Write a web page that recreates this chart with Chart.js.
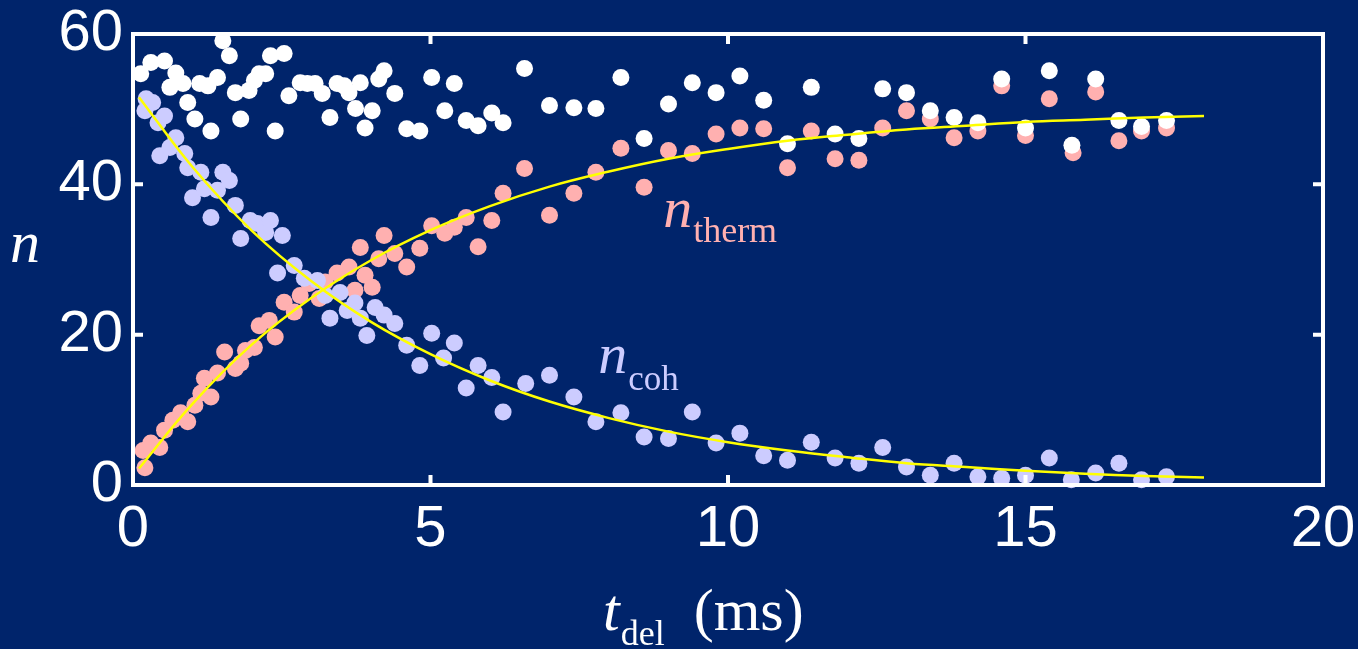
<!DOCTYPE html>
<html>
<head>
<meta charset="UTF-8">
<title>n vs t_del</title>
<script src="https://cdn.jsdelivr.net/npm/chart.js"></script>
<style>
  html, body { margin: 0; padding: 0; background: #00246b; overflow: hidden; }
  #wrap { width: 1358px; height: 649px; }
</style>
</head>
<body>
<div id="wrap"><canvas id="chart"></canvas></div>
<script>
  // total atom number (white)
  const totalT = [0.13, 0.3, 0.53, 0.62, 0.72, 0.84, 0.92, 1.04, 1.12, 1.26, 1.31, 1.42, 1.51, 1.62, 1.72, 1.81, 1.95, 2.04, 2.12, 2.23,
    2.31, 2.39, 2.54, 2.62, 2.81, 2.93, 3.06, 3.18, 3.31, 3.43, 3.55, 3.63, 3.74, 3.82, 3.9, 4.02, 4.13, 4.22, 4.4, 4.6,
    4.82, 5.02, 5.24, 5.4, 5.6, 5.8, 6.03, 6.22, 6.58, 7.0, 7.41, 7.78, 8.2, 8.59, 9.0, 9.4, 9.8, 10.2, 10.6, 11.0,
    11.4, 11.8, 12.2, 12.6, 13.0, 13.4, 13.8, 14.2, 14.6, 15.0, 15.4, 15.78, 16.18, 16.57, 16.95, 17.37];
  const totalN = [54.7, 56.2, 56.4, 52.9, 54.8, 53.4, 50.9, 48.7, 53.4, 53.1, 47.1, 54.2, 59.1, 57.1, 52.2, 48.7, 52.5, 53.8, 54.7, 54.7,
    57.1, 47.1, 57.4, 51.8, 53.5, 53.4, 53.4, 52.1, 48.9, 53.4, 53.1, 52.2, 50.1, 53.5, 47.5, 49.8, 54.0, 55.1, 52.1, 47.4,
    47.1, 54.2, 49.8, 53.4, 48.5, 47.8, 49.5, 48.2, 55.4, 50.5, 50.2, 50.1, 54.2, 46.1, 50.7, 53.5, 52.2, 54.4, 51.2, 45.4,
    52.9, 46.7, 46.1, 52.7, 52.2, 49.8, 48.9, 48.2, 54.0, 47.5, 55.1, 45.2, 54.0, 48.5, 47.7, 48.5];

  // thermal atoms (pink)
  const thermT = [0.17, 0.2, 0.3, 0.45, 0.53, 0.67, 0.8, 0.92, 1.04, 1.14, 1.2, 1.31, 1.42, 1.54, 1.72, 1.81, 1.89, 2.04, 2.12, 2.29,
    2.39, 2.54, 2.71, 2.81, 2.96, 3.13, 3.23, 3.43, 3.63, 3.73, 3.82, 3.9, 4.02, 4.13, 4.22, 4.4, 4.6, 4.82, 5.02, 5.24,
    5.4, 5.6, 5.8, 6.03, 6.22, 6.58, 7.0, 7.41, 7.78, 8.2, 8.59, 9.0, 9.4, 9.8, 10.2, 10.6, 11.0, 11.4, 11.8, 12.2,
    12.6, 13.0, 13.4, 13.8, 14.2, 14.6, 15.0, 15.4, 15.8, 16.18, 16.57, 16.95, 17.37];
  const thermN = [4.6, 2.3, 5.6, 5.0, 7.3, 8.6, 9.6, 8.4, 10.6, 12.2, 14.2, 11.7, 14.9, 17.7, 15.5, 16.2, 17.9, 18.3, 21.2, 21.9,
    19.7, 24.3, 23.0, 25.2, 26.8, 24.8, 27.0, 28.2, 29.0, 25.9, 31.6, 27.9, 26.3, 30.1, 33.2, 30.8, 29.0, 31.5, 34.5, 33.5,
    34.3, 35.6, 31.7, 35.2, 38.8, 42.1, 35.9, 38.8, 41.6, 44.8, 39.6, 44.5, 44.1, 46.7, 47.5, 47.4, 42.2, 47.1, 43.4, 43.2,
    47.5, 49.8, 48.7, 46.2, 47.1, 53.1, 46.5, 51.4, 44.2, 52.3, 45.8, 47.1, 47.5];

  // coherent atoms (lavender)
  const cohT = [0.2, 0.22, 0.33, 0.42, 0.45, 0.53, 0.62, 0.72, 0.87, 0.92, 1.0, 1.14, 1.2, 1.31, 1.42, 1.51, 1.62, 1.72, 1.81, 1.97,
    2.09, 2.23, 2.31, 2.43, 2.51, 2.71, 2.88, 3.1, 3.23, 3.31, 3.48, 3.6, 3.73, 3.82, 3.93, 4.07, 4.22, 4.4, 4.6, 4.82,
    5.02, 5.22, 5.4, 5.6, 5.8, 6.03, 6.22, 6.6, 7.0, 7.41, 7.78, 8.2, 8.59, 9.0, 9.4, 9.8, 10.2, 10.6, 11.0, 11.4,
    11.8, 12.2, 12.6, 13.0, 13.4, 13.8, 14.2, 14.6, 15.0, 15.4, 15.77, 16.18, 16.57, 16.95, 17.37];
  const cohN = [49.8, 51.4, 50.9, 48.2, 43.8, 49.1, 44.9, 46.2, 44.1, 42.2, 38.2, 41.6, 39.4, 35.6, 39.2, 41.6, 40.5, 37.2, 32.8, 35.2,
    34.8, 33.6, 35.2, 28.2, 33.2, 29.2, 27.5, 27.2, 25.2, 22.2, 25.6, 23.2, 24.2, 22.2, 19.9, 23.6, 22.6, 21.5, 18.6, 15.9,
    20.2, 16.9, 18.9, 12.9, 15.9, 14.3, 9.7, 13.5, 14.6, 11.7, 8.4, 9.6, 6.4, 6.2, 9.7, 5.6, 6.9, 3.9, 3.3, 5.7,
    3.6, 2.9, 5.0, 2.4, 1.3, 2.9, 1.1, 0.9, 1.3, 3.6, 0.7, 1.6, 2.9, 0.7, 1.1];

  // yellow fit curves
  const fitT = [0.1, 1, 2, 3, 4, 5, 6, 7, 8, 9, 10, 11, 12, 13, 14, 15, 16, 17, 18];
  const fitTherm = [2.2, 10.8, 18.7, 24.9, 29.9, 33.9, 37.1, 39.7, 41.7, 43.4, 44.7, 45.8, 46.6, 47.3, 47.8, 48.3, 48.6, 48.9, 49.1];
  const fitCoh = [51.6, 42.3, 33.8, 27.1, 21.7, 17.4, 13.9, 11.1, 8.9, 7.1, 5.7, 4.6, 3.7, 2.9, 2.4, 1.9, 1.5, 1.2, 1.0];

  const BG = '#00246b';
  const PINK = '#ffb0b0';
  const LAV = '#ccccff';
  const YEL = '#ffff00';
  const SERIF = '"Liberation Serif", "Times New Roman", serif';
  const SANS = '"Liberation Sans", Arial, sans-serif';

  const pts = (xs, ys) => xs.map((x, i) => ({ x: x, y: ys[i] }));

  function dotSet(label, xs, ys, color, order) {
    return {
      label: label, data: pts(xs, ys), order: order, clip: false,
      pointRadius: 8.5, pointHoverRadius: 8.5, pointStyle: 'circle',
      backgroundColor: color, borderColor: color, borderWidth: 0, showLine: false
    };
  }
  function fitSet(label, xs, ys) {
    return {
      label: label, data: pts(xs, ys), order: 0, showLine: true, tension: 0.4,
      pointRadius: 0, borderColor: YEL, borderWidth: 2.5, fill: false
    };
  }

  // main text followed by a lowered subscript
  function subText(ctx, x, y, main, sub, color, mainFont, subFont, drop, italic) {
    ctx.fillStyle = color;
    ctx.textBaseline = 'alphabetic';
    ctx.textAlign = 'left';
    ctx.font = (italic ? 'italic ' : '') + mainFont + ' ' + SERIF;
    ctx.fillText(main, x, y);
    const w = ctx.measureText(main).width;
    ctx.font = subFont + ' ' + SERIF;
    ctx.fillText(sub, x + w + 1, y + drop);
    return x + w + 1 + ctx.measureText(sub).width;
  }

  const frame = {
    id: 'frame',
    beforeDraw(chart) {
      const ctx = chart.ctx;
      ctx.save();
      ctx.fillStyle = BG;
      ctx.fillRect(0, 0, chart.width, chart.height);
      ctx.restore();
    },
    afterDraw(chart) {
      const { ctx, chartArea: a, scales } = chart;
      const xs = scales.x, ys = scales.y;
      ctx.save();
      ctx.strokeStyle = '#ffffff';
      ctx.lineWidth = 4;
      ctx.strokeRect(a.left, a.top, a.right - a.left, a.bottom - a.top);
      const len = 10;
      ctx.beginPath();
      xs.ticks.forEach(t => {
        if (t.value <= xs.min || t.value >= xs.max) return;
        const px = xs.getPixelForValue(t.value);
        ctx.moveTo(px, a.bottom); ctx.lineTo(px, a.bottom - len);
        ctx.moveTo(px, a.top); ctx.lineTo(px, a.top + len);
      });
      ys.ticks.forEach(t => {
        if (t.value <= ys.min || t.value >= ys.max) return;
        const py = ys.getPixelForValue(t.value);
        ctx.moveTo(a.left, py); ctx.lineTo(a.left + len, py);
        ctx.moveTo(a.right, py); ctx.lineTo(a.right - len, py);
      });
      ctx.stroke();

      // curve labels, placed in data units
      subText(ctx, xs.getPixelForValue(8.91), ys.getPixelForValue(34.3), 'n', 'therm', PINK, '58px', '36px', 15, true);
      subText(ctx, xs.getPixelForValue(7.82), ys.getPixelForValue(14.9), 'n', 'coh', LAV, '58px', '35px', 17, true);

      // axis titles
      ctx.fillStyle = '#ffffff';
      ctx.font = 'italic 60px ' + SERIF;
      ctx.textAlign = 'left';
      ctx.textBaseline = 'alphabetic';
      ctx.fillText('n', 10, 262);
      const end = subText(ctx, 603, 630, 't', 'del', '#ffffff', '60px', '36px', 15, true);
      ctx.font = '60px ' + SERIF;
      ctx.fillText('(ms)', end + 29, 630);
      ctx.restore();
    }
  };

  new Chart(document.getElementById('chart'), {
    type: 'scatter',
    data: {
      datasets: [
        fitSet('therm fit', fitT, fitTherm),
        fitSet('coh fit', fitT, fitCoh),
        dotSet('n total', totalT, totalN, '#ffffff', 1),
        dotSet('n coh', cohT, cohN, LAV, 2),
        dotSet('n therm', thermT, thermN, PINK, 3)
      ]
    },
    options: {
      responsive: true,
      maintainAspectRatio: false,
      animation: false,
      events: [],
      layout: { padding: { left: 0, right: 35, top: 34, bottom: 0 } },
      plugins: { legend: { display: false }, tooltip: { enabled: false } },
      scales: {
        x: {
          type: 'linear', min: 0, max: 20,
          grid: { display: false, drawTicks: false },
          border: { display: false },
          ticks: { stepSize: 5, color: '#ffffff', padding: 16, font: { family: SANS, size: 58, lineHeight: 1 } },
          afterFit(scale) { scale.height = 164; scale.paddingLeft = 0; scale.paddingRight = 0; }
        },
        y: {
          type: 'linear', min: 0, max: 60,
          grid: { display: false, drawTicks: false },
          border: { display: false },
          ticks: { stepSize: 20, color: '#ffffff', padding: 10, font: { family: SANS, size: 58, lineHeight: 1 } },
          afterFit(scale) { scale.width = 133; scale.paddingTop = 0; scale.paddingBottom = 0; }
        }
      }
    },
    plugins: [frame]
  });
</script>
</body>
</html>
